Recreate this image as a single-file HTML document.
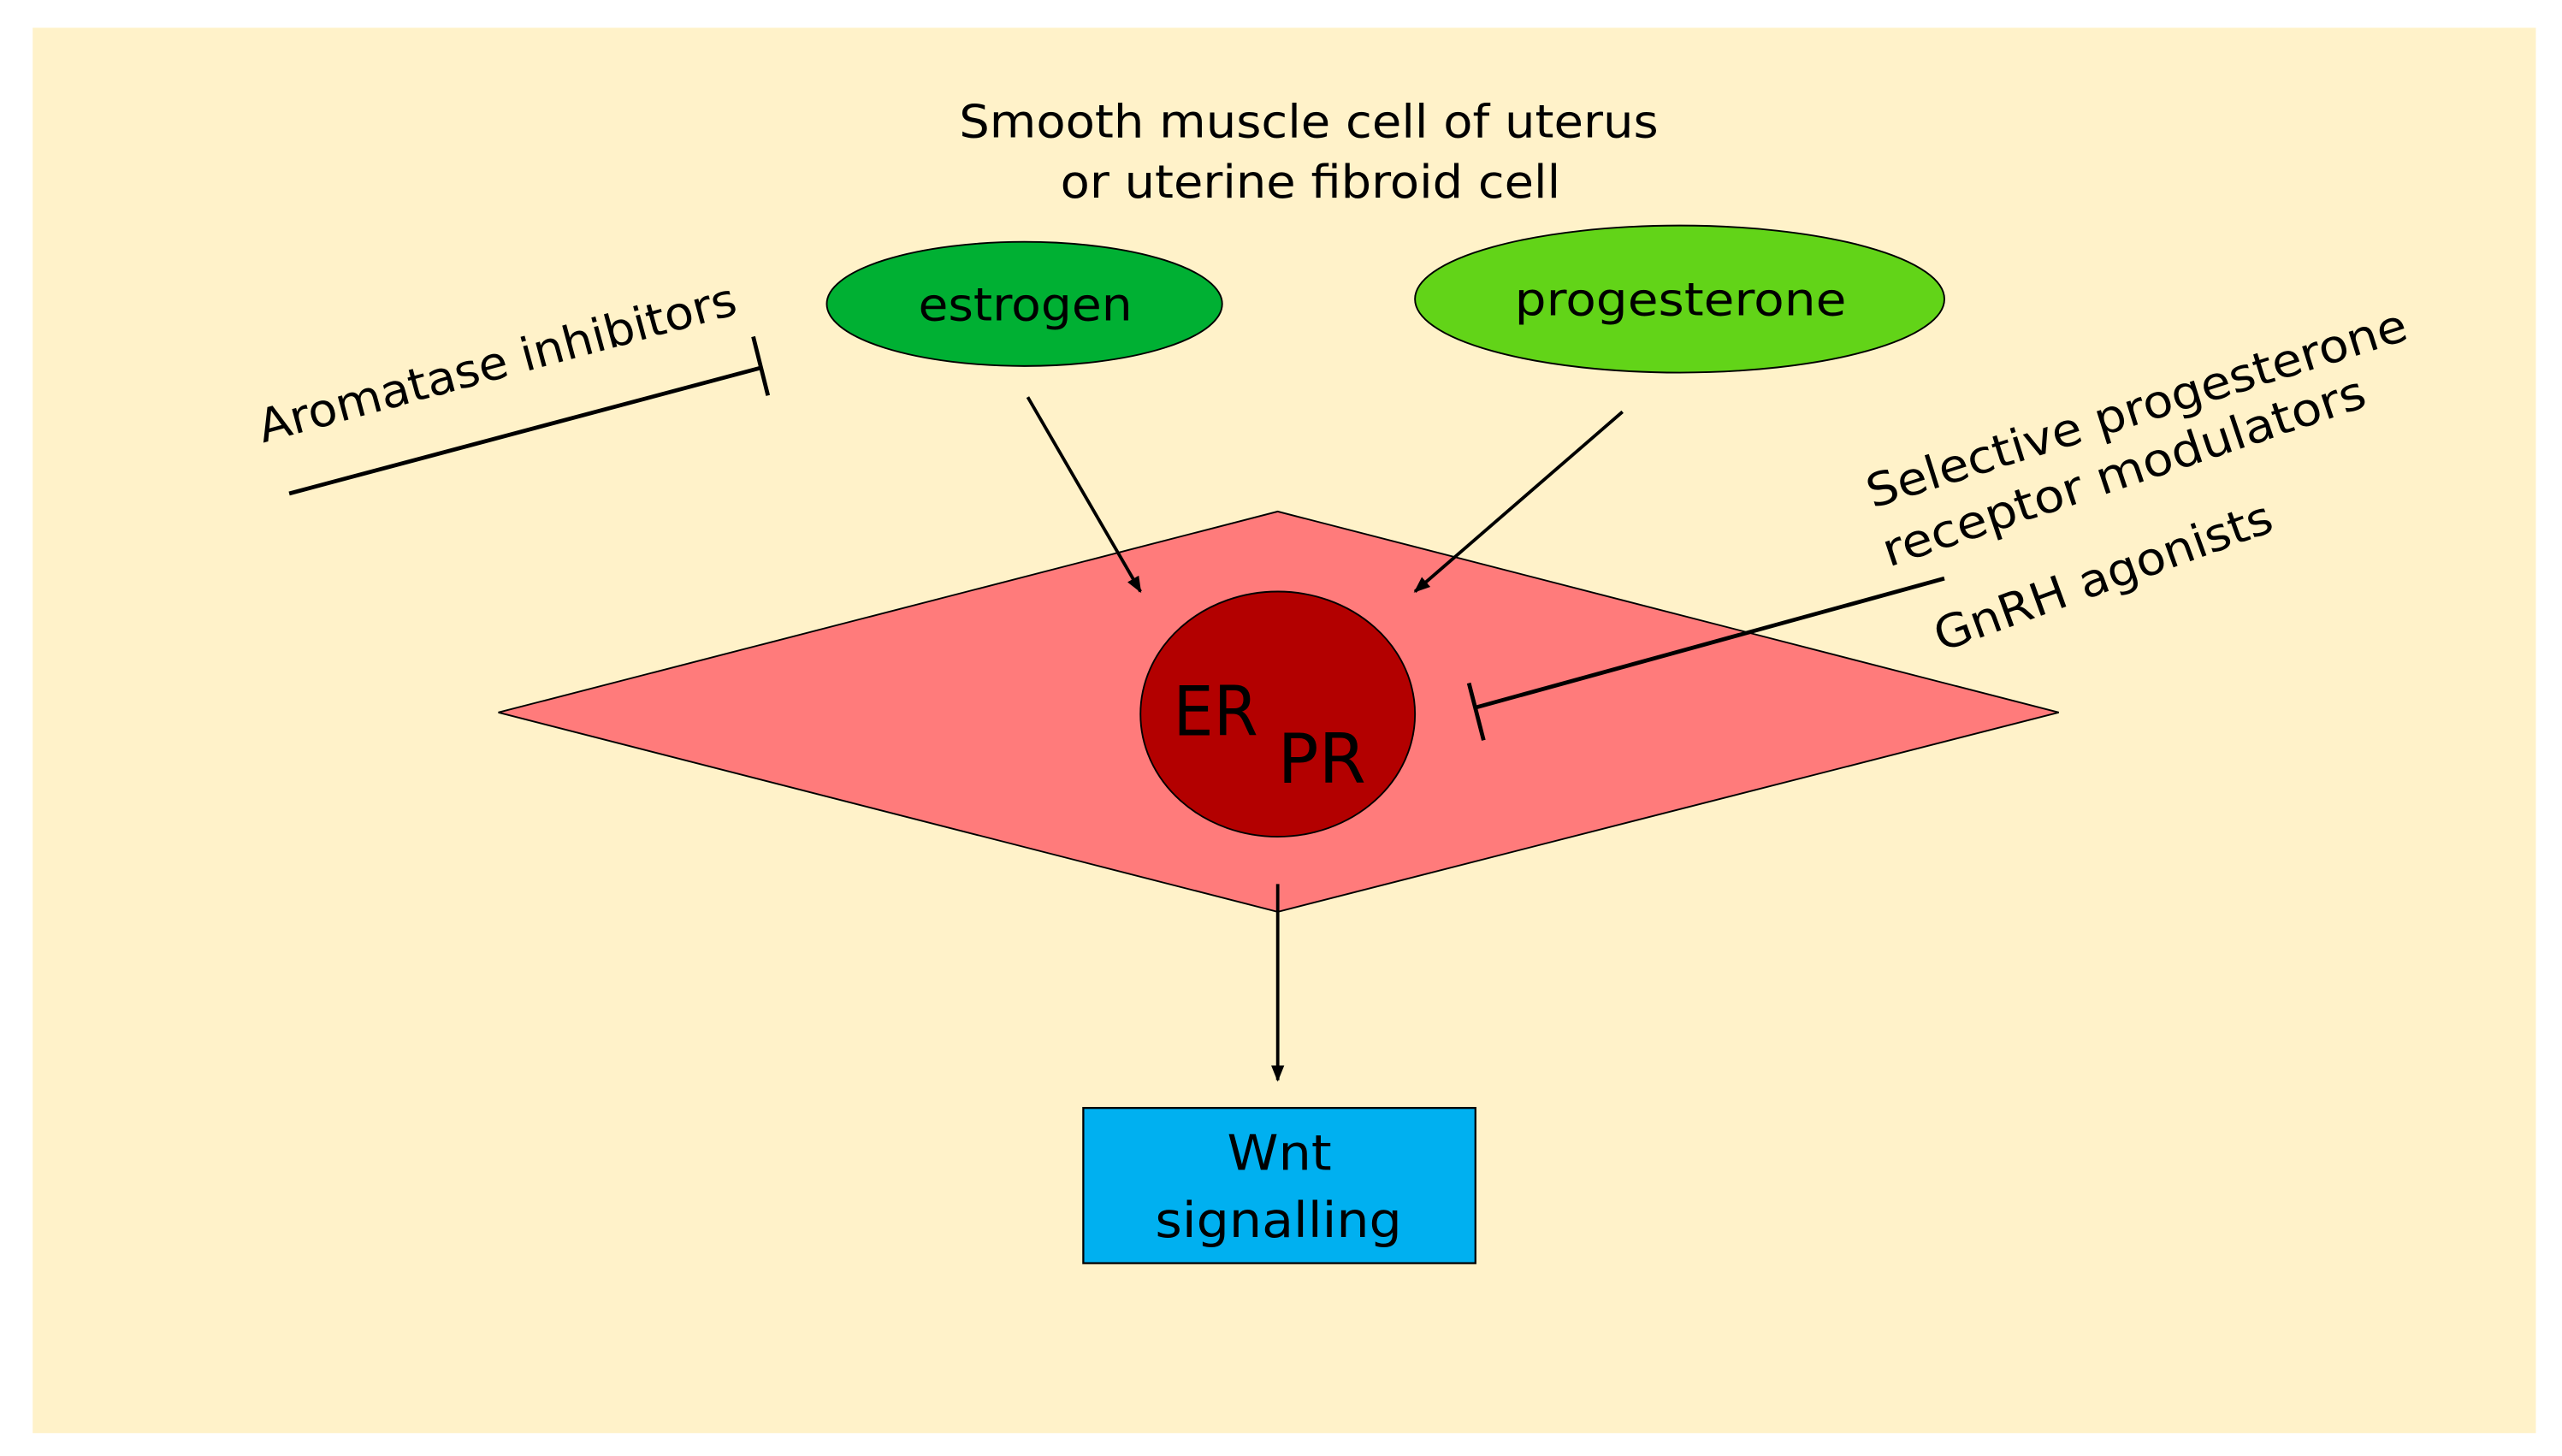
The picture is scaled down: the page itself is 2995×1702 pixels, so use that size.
<!DOCTYPE html>
<html><head><meta charset="utf-8"><style>
html,body{margin:0;padding:0;background:#fff;}
svg{display:block;}
text{font-family:"DejaVu Sans","Liberation Sans",sans-serif;fill:#000;}
</style></head><body>
<svg width="2995" height="1702" viewBox="0 0 1568 891" preserveAspectRatio="none" xmlns="http://www.w3.org/2000/svg">
<defs><marker id="a" markerWidth="10" markerHeight="10" refX="9" refY="5" orient="auto" markerUnits="userSpaceOnUse"><path d="M0,1 L10,5 L0,9 z" fill="#000"/></marker></defs>
<rect x="0" y="0" width="1568" height="891" fill="#fff"/>
<rect x="20" y="17" width="1532" height="860" fill="#fff2c9"/>
<text x="587" y="84" font-size="28" textLength="428" lengthAdjust="spacingAndGlyphs">Smooth muscle cell of uterus</text>
<text x="649" y="121" font-size="28" textLength="306" lengthAdjust="spacingAndGlyphs">or uterine fibroid cell</text>
<ellipse cx="627" cy="186" rx="121" ry="38" fill="#00b033" stroke="#000" stroke-width="1"/>
<text x="562" y="196" font-size="28" textLength="131" lengthAdjust="spacingAndGlyphs">estrogen</text>
<ellipse cx="1028" cy="183" rx="162" ry="45" fill="#62d418" stroke="#000" stroke-width="1"/>
<text x="927" y="193" font-size="28" textLength="203" lengthAdjust="spacingAndGlyphs">progesterone</text>
<polygon points="305,436 782,313 1260,436 782,558" fill="#ff7b7b" stroke="#000" stroke-width="1"/>
<ellipse cx="782" cy="437" rx="84" ry="75" fill="#b30000" stroke="#000" stroke-width="1"/>
<text x="718" y="450" font-size="42" textLength="52" lengthAdjust="spacingAndGlyphs">ER</text>
<text x="782" y="479" font-size="42" textLength="54" lengthAdjust="spacingAndGlyphs">PR</text>
<line x1="629" y1="243" x2="698" y2="362" stroke="#000" stroke-width="2" marker-end="url(#a)"/>
<line x1="993" y1="252" x2="866" y2="362" stroke="#000" stroke-width="2" marker-end="url(#a)"/>
<line x1="782" y1="541" x2="782" y2="661" stroke="#000" stroke-width="2" marker-end="url(#a)"/>
<line x1="177" y1="302" x2="466" y2="225" stroke="#000" stroke-width="2.5"/>
<line x1="461" y1="206" x2="470" y2="242" stroke="#000" stroke-width="2.5"/>
<text transform="translate(161,271) rotate(-15.2)" font-size="28" textLength="302" lengthAdjust="spacingAndGlyphs">Aromatase inhibitors</text>
<line x1="1190" y1="354" x2="903" y2="433" stroke="#000" stroke-width="2.5"/>
<line x1="899" y1="418" x2="908" y2="453" stroke="#000" stroke-width="2.5"/>
<text transform="translate(1146,311) rotate(-17.5)" font-size="28" textLength="345" lengthAdjust="spacingAndGlyphs">Selective progesterone</text>
<text transform="translate(1156,347) rotate(-18.6)" font-size="28" textLength="310" lengthAdjust="spacingAndGlyphs">receptor modulators</text>
<text transform="translate(1188,399) rotate(-20)" font-size="28" textLength="218" lengthAdjust="spacingAndGlyphs">GnRH agonists</text>
<rect x="663" y="678" width="240" height="95" fill="#00b0f0" stroke="#000" stroke-width="1.2"/>
<text x="751" y="716" font-size="30" textLength="64" lengthAdjust="spacingAndGlyphs">Wnt</text>
<text x="707" y="757" font-size="30" textLength="151" lengthAdjust="spacingAndGlyphs">signalling</text>
</svg>
</body></html>
